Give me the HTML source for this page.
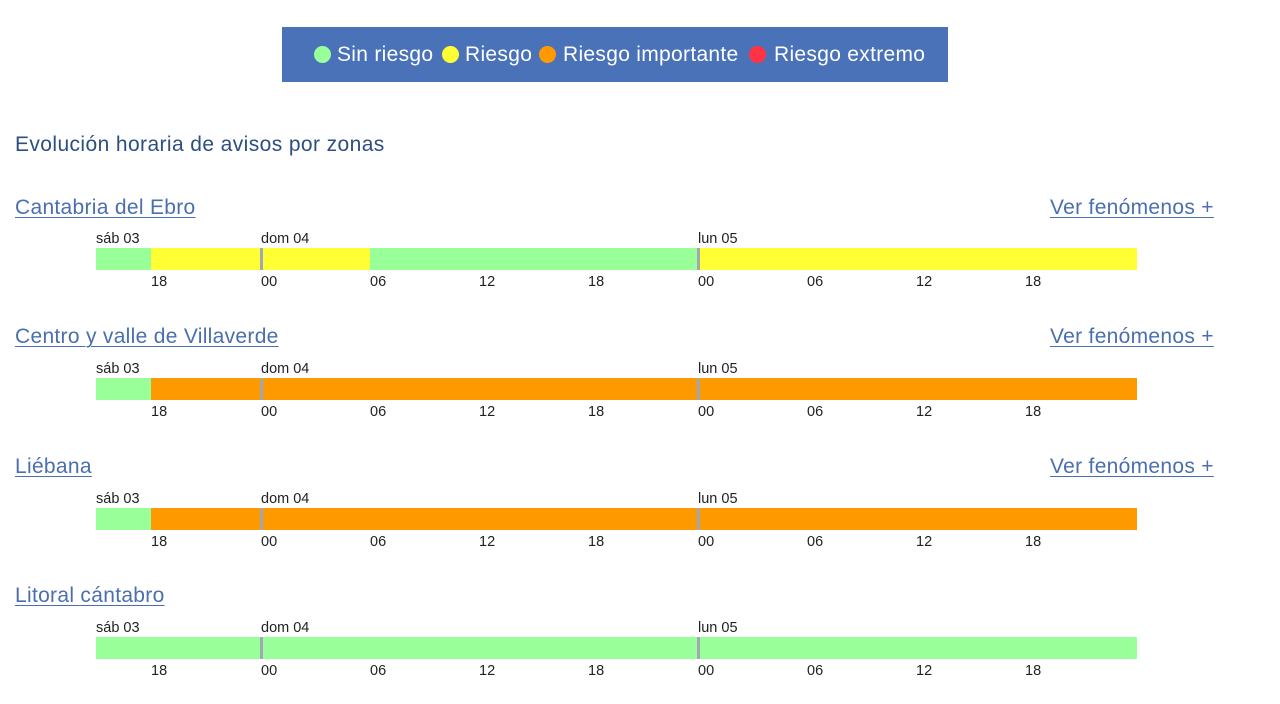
<!DOCTYPE html>
<html><head><meta charset="utf-8"><style>
body{margin:0;width:1280px;height:704px;background:#fff;position:relative;font-family:"Liberation Sans",sans-serif;overflow:hidden}
.a{position:absolute;white-space:nowrap}
.leg{left:282px;top:27px;width:666px;height:55px;background:#4a72b8;}
.li{top:14px;color:#fff;font-size:21px;line-height:28px;letter-spacing:0.3px}
.dot{position:absolute;width:17px;height:17px;border-radius:50%;top:19px}
.title{left:15px;top:133px;font-size:21px;color:#2c4f80;letter-spacing:0.4px}
.lnk{font-size:21px;color:#4a6fb0;text-decoration:underline;text-decoration-thickness:1px;text-underline-offset:3px;letter-spacing:0.3px}
.sm{font-size:14.5px;color:#222}
.seg{position:absolute;height:22px}
.g{background:#99ff99}.y{background:#ffff33}.o{background:#ff9900}
.dl{position:absolute;width:3px;height:22px;background:#a0a8b8}
</style></head><body>
<div class="a leg">
<div class="dot" style="left:32px;background:#99ff99"></div><div class="a li" style="left:55px">Sin riesgo</div>
<div class="dot" style="left:160px;background:#ffff33"></div><div class="a li" style="left:183px">Riesgo</div>
<div class="dot" style="left:257px;background:#ff9900"></div><div class="a li" style="left:281px">Riesgo importante</div>
<div class="dot" style="left:467px;background:#ff3344"></div><div class="a li" style="left:492px">Riesgo extremo</div>
</div>
<div class="a title">Evolución horaria de avisos por zonas</div>

<!-- row 1 -->
<div class="a lnk" style="left:15px;top:196px">Cantabria del Ebro</div>
<div class="a lnk" style="left:1050px;top:196px">Ver fenómenos +</div>
<div class="a sm" style="left:96px;top:231px">sáb 03</div>
<div class="a sm" style="left:261px;top:231px">dom 04</div>
<div class="a sm" style="left:698px;top:231px">lun 05</div>
<div class="seg g" style="left:96px;top:248px;width:55px"></div>
<div class="seg y" style="left:151px;top:248px;width:219px"></div>
<div class="seg g" style="left:370px;top:248px;width:328px"></div>
<div class="seg y" style="left:698px;top:248px;width:439px"></div>
<div class="dl" style="left:260px;top:248px"></div><div class="dl" style="left:697px;top:248px"></div>
<div class="a sm" style="left:151px;top:274px">18</div><div class="a sm" style="left:261px;top:274px">00</div><div class="a sm" style="left:370px;top:274px">06</div><div class="a sm" style="left:479px;top:274px">12</div><div class="a sm" style="left:588px;top:274px">18</div><div class="a sm" style="left:698px;top:274px">00</div><div class="a sm" style="left:807px;top:274px">06</div><div class="a sm" style="left:916px;top:274px">12</div><div class="a sm" style="left:1025px;top:274px">18</div>

<!-- row 2 -->
<div class="a lnk" style="left:15px;top:325px">Centro y valle de Villaverde</div>
<div class="a lnk" style="left:1050px;top:325px">Ver fenómenos +</div>
<div class="a sm" style="left:96px;top:361px">sáb 03</div>
<div class="a sm" style="left:261px;top:361px">dom 04</div>
<div class="a sm" style="left:698px;top:361px">lun 05</div>
<div class="seg g" style="left:96px;top:378px;width:55px"></div>
<div class="seg o" style="left:151px;top:378px;width:986px"></div>
<div class="dl" style="left:260px;top:378px"></div><div class="dl" style="left:697px;top:378px"></div>
<div class="a sm" style="left:151px;top:404px">18</div><div class="a sm" style="left:261px;top:404px">00</div><div class="a sm" style="left:370px;top:404px">06</div><div class="a sm" style="left:479px;top:404px">12</div><div class="a sm" style="left:588px;top:404px">18</div><div class="a sm" style="left:698px;top:404px">00</div><div class="a sm" style="left:807px;top:404px">06</div><div class="a sm" style="left:916px;top:404px">12</div><div class="a sm" style="left:1025px;top:404px">18</div>

<!-- row 3 -->
<div class="a lnk" style="left:15px;top:455px">Liébana</div>
<div class="a lnk" style="left:1050px;top:455px">Ver fenómenos +</div>
<div class="a sm" style="left:96px;top:491px">sáb 03</div>
<div class="a sm" style="left:261px;top:491px">dom 04</div>
<div class="a sm" style="left:698px;top:491px">lun 05</div>
<div class="seg g" style="left:96px;top:508px;width:55px"></div>
<div class="seg o" style="left:151px;top:508px;width:986px"></div>
<div class="dl" style="left:260px;top:508px"></div><div class="dl" style="left:697px;top:508px"></div>
<div class="a sm" style="left:151px;top:534px">18</div><div class="a sm" style="left:261px;top:534px">00</div><div class="a sm" style="left:370px;top:534px">06</div><div class="a sm" style="left:479px;top:534px">12</div><div class="a sm" style="left:588px;top:534px">18</div><div class="a sm" style="left:698px;top:534px">00</div><div class="a sm" style="left:807px;top:534px">06</div><div class="a sm" style="left:916px;top:534px">12</div><div class="a sm" style="left:1025px;top:534px">18</div>

<!-- row 4 -->
<div class="a lnk" style="left:15px;top:584px">Litoral cántabro</div>
<div class="a sm" style="left:96px;top:620px">sáb 03</div>
<div class="a sm" style="left:261px;top:620px">dom 04</div>
<div class="a sm" style="left:698px;top:620px">lun 05</div>
<div class="seg g" style="left:96px;top:637px;width:1041px"></div>
<div class="dl" style="left:260px;top:637px"></div><div class="dl" style="left:697px;top:637px"></div>
<div class="a sm" style="left:151px;top:663px">18</div><div class="a sm" style="left:261px;top:663px">00</div><div class="a sm" style="left:370px;top:663px">06</div><div class="a sm" style="left:479px;top:663px">12</div><div class="a sm" style="left:588px;top:663px">18</div><div class="a sm" style="left:698px;top:663px">00</div><div class="a sm" style="left:807px;top:663px">06</div><div class="a sm" style="left:916px;top:663px">12</div><div class="a sm" style="left:1025px;top:663px">18</div>
</body></html>
